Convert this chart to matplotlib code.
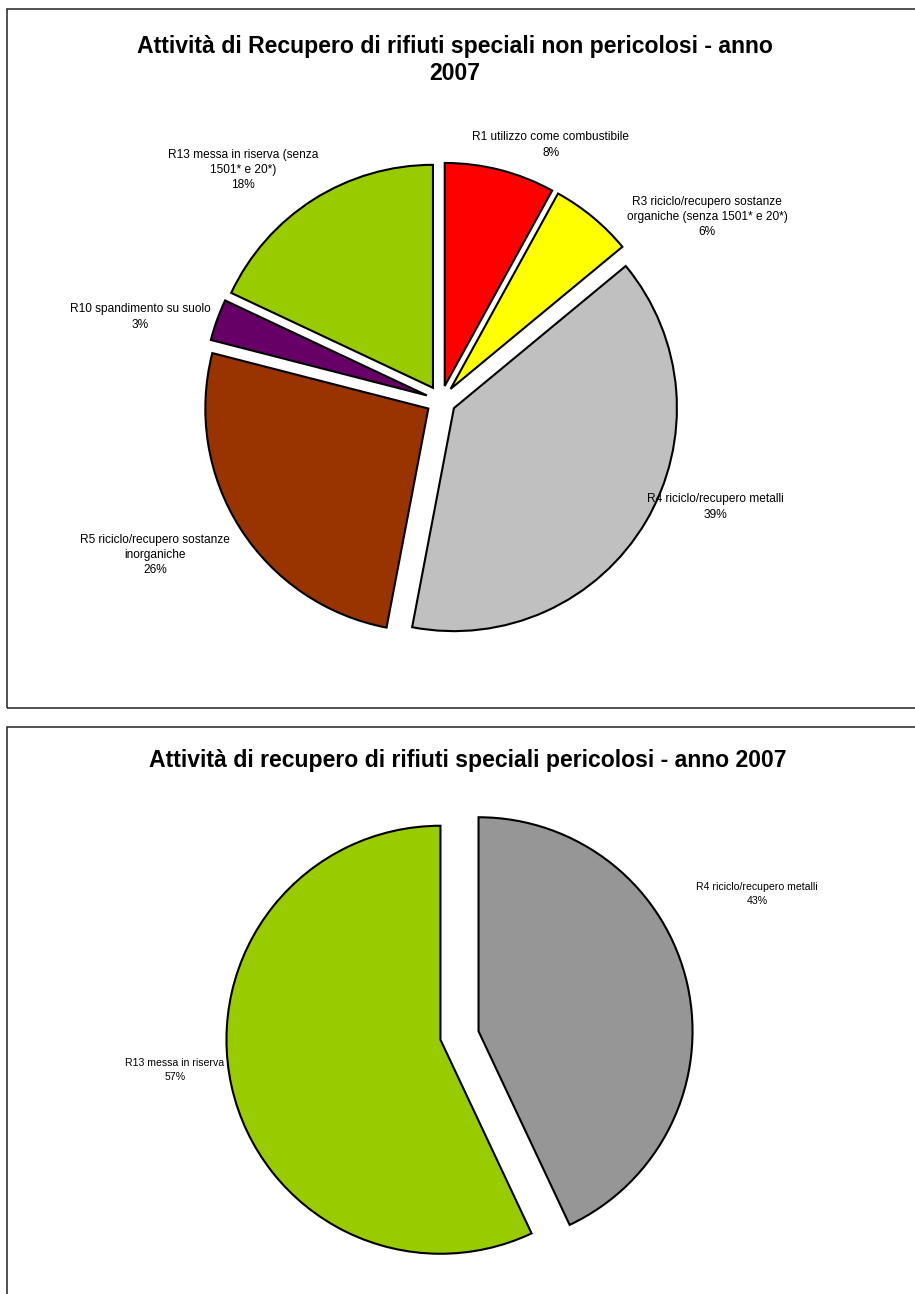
import matplotlib
matplotlib.use("Agg")
import matplotlib.pyplot as plt
from matplotlib.patches import Rectangle

plt.rcParams['font.family'] = ['Liberation Sans', 'DejaVu Sans']

W, H = 915, 1294

# --- rifiuti speciali non pericolosi ---
np_codes = ["R1 utilizzo come combustibile",
            "R3 riciclo/recupero sostanze\norganiche (senza 1501* e 20*)",
            "R4 riciclo/recupero metalli",
            "R5 riciclo/recupero sostanze\ninorganiche",
            "R10 spandimento su suolo",
            "R13 messa in riserva (senza\n1501* e 20*)"]
np_perc = [8, 6, 39, 26, 3, 18]
np_colors = ["#FF0000", "#FFFF00", "#C0C0C0", "#993300", "#660066", "#99CC00"]
np_label_pos = [(551, 145), (707, 217), (715, 507), (155, 555), (140, 317), (243, 170)]

# --- rifiuti speciali pericolosi ---
p_codes = ["R4 riciclo/recupero metalli", "R13 messa in riserva"]
p_perc = [43, 57]
p_colors = ["#969696", "#99CC00"]
p_label_pos = [(757, 894), (175, 1070)]

fig = plt.figure(figsize=(W / 100, H / 100), dpi=100)
ax = fig.add_axes([0, 0, 1, 1])


def py(y):
    # pixel row (top-down) -> data y (bottom-up)
    return H - y


# panel frames
ax.add_patch(Rectangle((7, py(708)), 930, 699, fill=False, lw=1.1, ec="#222222"))
ax.add_patch(Rectangle((7, py(1320)), 930, 593, fill=False, lw=1.1, ec="#222222"))

wedge_kw = dict(edgecolor="black", linewidth=1.5, joinstyle="miter")

ax.pie(np_perc, colors=np_colors, startangle=90, counterclock=False,
       center=(441, py(400.5)), radius=223, explode=[15] * len(np_perc),
       wedgeprops=wedge_kw, frame=True)
ax.pie(p_perc, colors=p_colors, startangle=90, counterclock=False,
       center=(459.5, py(1035.5)), radius=214, explode=[19.5] * len(p_perc),
       wedgeprops=wedge_kw, frame=True)

for lab, v, (x, y) in zip(np_codes, np_perc, np_label_pos):
    ax.text(x, py(y), f"{lab}\n{v}%", ha="center", va="center",
            fontsize=8.6, linespacing=1.35)
for lab, v, (x, y) in zip(p_codes, p_perc, p_label_pos):
    ax.text(x, py(y), f"{lab}\n{v}%", ha="center", va="center",
            fontsize=7.6, linespacing=1.5)

ax.text(455, py(60), "Attività di Recupero di rifiuti speciali non pericolosi - anno\n2007",
        ha="center", va="center", fontsize=16.6, fontweight="bold", linespacing=1.25)
ax.text(468, py(760), "Attività di recupero di rifiuti speciali pericolosi - anno 2007",
        ha="center", va="center", fontsize=16.6, fontweight="bold")

ax.set_xlim(0, W)
ax.set_ylim(0, H)
ax.set_aspect("equal")
ax.axis("off")

fig.savefig("out.png", dpi=100, facecolor="white")
